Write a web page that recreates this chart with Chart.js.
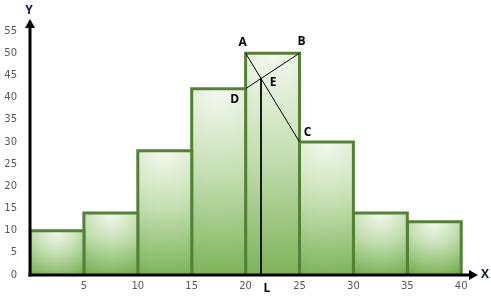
<!DOCTYPE html>
<html><head><meta charset="utf-8">
<script src="https://cdn.jsdelivr.net/npm/chart.js@4/dist/chart.umd.min.js"></script>
<style>html,body{margin:0;padding:0;background:#fff}#wrap{width:491px;height:298px}</style>
</head><body><div id="wrap"><canvas id="c" width="491" height="298"></canvas></div>
<script>
// class boundaries and frequencies
const classEdges = [0, 5, 10, 15, 20, 25, 30, 35, 40];
const frequencies = [10, 14, 28, 42, 50, 30, 14, 12];
const yTicks = [0, 5, 10, 15, 20, 25, 30, 35, 40, 45, 50, 55];
const xTicks = [5, 10, 15, 20, 25, 30, 35, 40];
// construction points on the modal bar
const modalIndex = 4;
const ptA = {x: classEdges[modalIndex], y: frequencies[modalIndex]};
const ptB = {x: classEdges[modalIndex + 1], y: frequencies[modalIndex]};
const ptC = {x: classEdges[modalIndex + 1], y: frequencies[modalIndex + 1]};
const ptD = {x: classEdges[modalIndex], y: frequencies[modalIndex - 1]};
// intersection E of AC and DB
const sAC = (ptC.y - ptA.y) / (ptC.x - ptA.x);
const sDB = (ptB.y - ptD.y) / (ptB.x - ptD.x);
const eX = ptA.x + (ptD.y - ptA.y) / (sAC - sDB);
const ptE = {x: eX, y: ptA.y + sAC * (eX - ptA.x)};
const ptL = {x: eX, y: 0};

const barDatasets = frequencies.map((f, i) => ({
  type: 'line',
  data: [{x: classEdges[i], y: 0}, {x: classEdges[i], y: f}, {x: classEdges[i + 1], y: f}, {x: classEdges[i + 1], y: 0}],
  borderColor: '#548235',
  borderWidth: 3,
  borderJoinStyle: 'miter',
  pointRadius: 0,
  tension: 0,
  fill: 'origin',
  order: 10 + i,
  backgroundColor: (ctx) => {
    const chart = ctx.chart;
    const ca = chart.chartArea;
    if (!ca) return '#a9d08e';
    const xs = chart.scales.x, ys = chart.scales.y;
    const x0 = xs.getPixelForValue(classEdges[i]), x1 = xs.getPixelForValue(classEdges[i + 1]);
    const top = ys.getPixelForValue(f), bot = ys.getPixelForValue(0);
    const cx = (x0 + x1) / 2;
    const r = Math.max(bot - top, (x1 - x0) * 0.9);
    const g = chart.ctx.createRadialGradient(cx, top, 0, cx, top, r * 1.05);
    g.addColorStop(0, '#f4f9f0');
    g.addColorStop(0.45, '#c3deb0');
    g.addColorStop(1, '#76b052');
    return g;
  }
}));

const lineStyle = {type: 'line', borderColor: '#000', borderWidth: 1, pointRadius: 0, fill: false, order: 0};
const datasets = barDatasets.concat([
  Object.assign({data: [ptA, ptC]}, lineStyle),
  Object.assign({data: [ptD, ptB]}, lineStyle),
  Object.assign({data: [ptE, ptL]}, lineStyle)
]);

const pointLabels = [
  {t: 'A', p: ptA, dx: -3, dy: -11},
  {t: 'B', p: ptB, dx: 2, dy: -12},
  {t: 'C', p: ptC, dx: 8, dy: -9},
  {t: 'D', p: ptD, dx: -11, dy: 11},
  {t: 'E', p: ptE, dx: 12, dy: 4},
  {t: 'L', p: ptL, dx: 6, dy: 14}
];

const axesPlugin = {
  id: 'axesArrows',
  afterDatasetsDraw(chart) {
    const c = chart.ctx, xs = chart.scales.x, ys = chart.scales.y;
    const ox = xs.getPixelForValue(0), oy = ys.getPixelForValue(0);
    const xr = xs.right - 2, yt = ys.top - 4;
    c.save();
    c.strokeStyle = '#000'; c.fillStyle = '#000'; c.lineWidth = 3;
    c.beginPath(); c.moveTo(ox, oy + 1.5); c.lineTo(ox, yt); c.stroke();
    c.beginPath(); c.moveTo(ox - 1.5, oy); c.lineTo(xr, oy); c.stroke();
    c.beginPath(); c.moveTo(ox, yt - 8); c.lineTo(ox - 5, yt + 1); c.lineTo(ox + 5, yt + 1); c.closePath(); c.fill();
    c.beginPath(); c.moveTo(xr + 8, oy); c.lineTo(xr - 1, oy - 5); c.lineTo(xr - 1, oy + 5); c.closePath(); c.fill();
    c.font = 'bold 12px "Open Sans", sans-serif';
    c.textAlign = 'center'; c.textBaseline = 'middle';
    c.fillStyle = '#0d1a3a';
    c.fillText('Y', ox - 1, yt - 16);
    c.fillText('X', xr + 15, oy + 0);
    c.fillStyle = '#000';
    pointLabels.forEach(l => {
      c.fillText(l.t, xs.getPixelForValue(l.p.x) + l.dx, ys.getPixelForValue(l.p.y) + l.dy);
    });
    c.restore();
  }
};

new Chart(document.getElementById('c'), {
  type: 'line',
  data: {datasets},
  options: {
    responsive: false,
    animation: false,
    events: [],
    layout: {padding: {top: 31, right: 19, left: 0, bottom: 0}},
    plugins: {legend: {display: false}, tooltip: {enabled: false}},
    scales: {
      x: {
        type: 'linear', min: 0, max: 41,
        afterBuildTicks: (s) => { s.ticks = xTicks.map(v => ({value: v})); },
        afterFit: (s) => { s.height = 23; },
        grid: {display: false, drawTicks: false},
        border: {display: false},
        ticks: {padding: 5, color: '#595959', font: {family: '"DejaVu Sans", sans-serif', size: 10}, maxRotation: 0, autoSkip: false}
      },
      y: {
        type: 'linear', min: 0, max: 55,
        afterBuildTicks: (s) => { s.ticks = yTicks.map(v => ({value: v})); },
        afterFit: (s) => { s.width = 30; },
        grid: {display: false, drawTicks: false},
        border: {display: false},
        ticks: {padding: 13, color: '#595959', font: {family: '"DejaVu Sans", sans-serif', size: 10}, autoSkip: false}
      }
    }
  },
  plugins: [axesPlugin]
});
</script>
</body></html>
